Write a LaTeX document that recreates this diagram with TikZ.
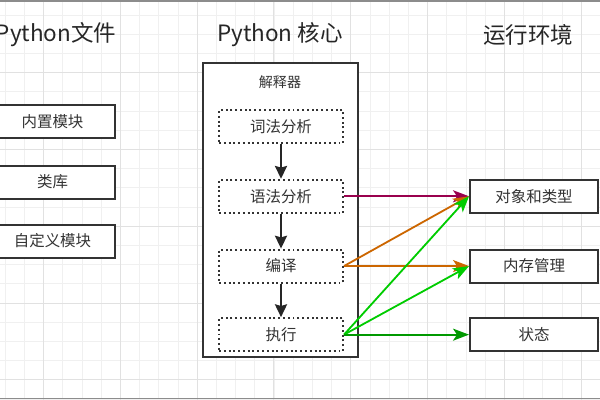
\documentclass[tikz,border=0pt]{standalone}
\usepackage{fontspec}
\setmainfont{Noto Sans CJK SC}
\usetikzlibrary{positioning, arrows.meta}
\definecolor{gridminor}{HTML}{F0F0F0}
\definecolor{gridmajor}{HTML}{E1E1E1}
\definecolor{edgegray}{HTML}{8C8C8C}
\definecolor{textgray}{HTML}{333333}
\definecolor{syntaxline}{HTML}{99004D}
\definecolor{compileline}{HTML}{CC6600}
\definecolor{runline}{HTML}{00CC00}
\definecolor{stateline}{HTML}{009900}

\begin{document}
\begin{tikzpicture}[x=0.025cm, y=-0.025cm,
    title/.style={font=\fontsize{16}{18}\selectfont, text=black!85},
    plainbox/.style={draw=black!80, line width=1.4pt, fill=white, minimum height=0.825cm,
        font=\fontsize{11}{13}\selectfont, text=textgray},
    filebox/.style={plainbox, minimum width=3.125cm},
    envbox/.style={plainbox, minimum width=3.2cm},
    stagebox/.style={draw=black!80, line width=1.4pt, dotted, fill=white, minimum width=3.1cm,
        minimum height=0.825cm, font=\fontsize{11}{13}\selectfont, text=textgray},
    flow/.style={draw=black!85, line width=1.6pt, -{Stealth[length=3.2mm, width=3mm, inset=0.4mm]}},
    link/.style={line width=1.3pt, -{Stealth[length=4mm, width=3mm, inset=1mm]}}]
    \clip (0,0) rectangle (600,400);
    \useasboundingbox (0,0) rectangle (600,400);
    % grid
    \foreach \i in {0,...,31} {
        \draw[gridminor, line width=0.5pt] (5.1+19.2*\i,0) -- (5.1+19.2*\i,400);
        \draw[gridminor, line width=0.5pt] (0,15+19.2*\i) -- (600,15+19.2*\i);
    }
    \foreach \i in {0,...,7} {
        \draw[gridmajor, line width=0.7pt] (43.5+76.8*\i,0) -- (43.5+76.8*\i,400);
        \draw[gridmajor, line width=0.7pt] (0,72.6+76.8*\i) -- (600,72.6+76.8*\i);
    }
    \draw[edgegray, line width=1pt] (0,0.8) -- (600,0.8);
    \draw[edgegray, line width=1pt] (0,398.3) -- (600,398.3);

    % titles
    \node[title] (filetitle) at (56,35) {Python文件};
    \node[title] (coretitle) at (280,35) {Python 核心};
    \node[title] (envtitle) at (528,35) {运行环境};

    % python files
    \node[filebox] (builtin) at (52.5,121.5) {内置模块};
    \node[filebox, below=0.64cm of builtin] (library) {类库};
    \node[filebox, below=0.6cm of library] (custom) {自定义模块};

    % core
    \node[draw=black!80, line width=1.4pt, fill=white, minimum width=3.875cm,
        minimum height=7.35cm] (core) at (280.5,210) {};
    \node[font=\fontsize{10}{12}\selectfont, text=textgray] (interp) at (280,82) {解释器};
    \node[stagebox] (lexer) at (281,126.5) {词法分析};
    \node[stagebox, below=0.87cm of lexer] (parser) {语法分析};
    \node[stagebox, below=0.87cm of parser] (compiler) {编译};
    \node[stagebox, below=0.84cm of compiler] (runner) {执行};
    \draw[flow] (lexer) -- (parser);
    \draw[flow] (parser) -- (compiler);
    \draw[flow] (compiler) -- (runner);

    % runtime
    \node[envbox, right=3.125cm of parser] (objects) {对象和类型};
    \node[envbox, right=3.125cm of compiler] (memory) {内存管理};
    \node[envbox, right=3.125cm of runner] (state) {状态};

    \draw[link, syntaxline] (parser.east) -- (objects.west);
    \draw[link, compileline] (compiler.east) -- (objects.west);
    \draw[link, compileline] (compiler.east) -- (memory.west);
    \draw[link, runline] (runner.east) -- (objects.west);
    \draw[link, runline] (runner.east) -- (memory.west);
    \draw[link, stateline] (runner.east) -- (state.west);
\end{tikzpicture}
\end{document}
